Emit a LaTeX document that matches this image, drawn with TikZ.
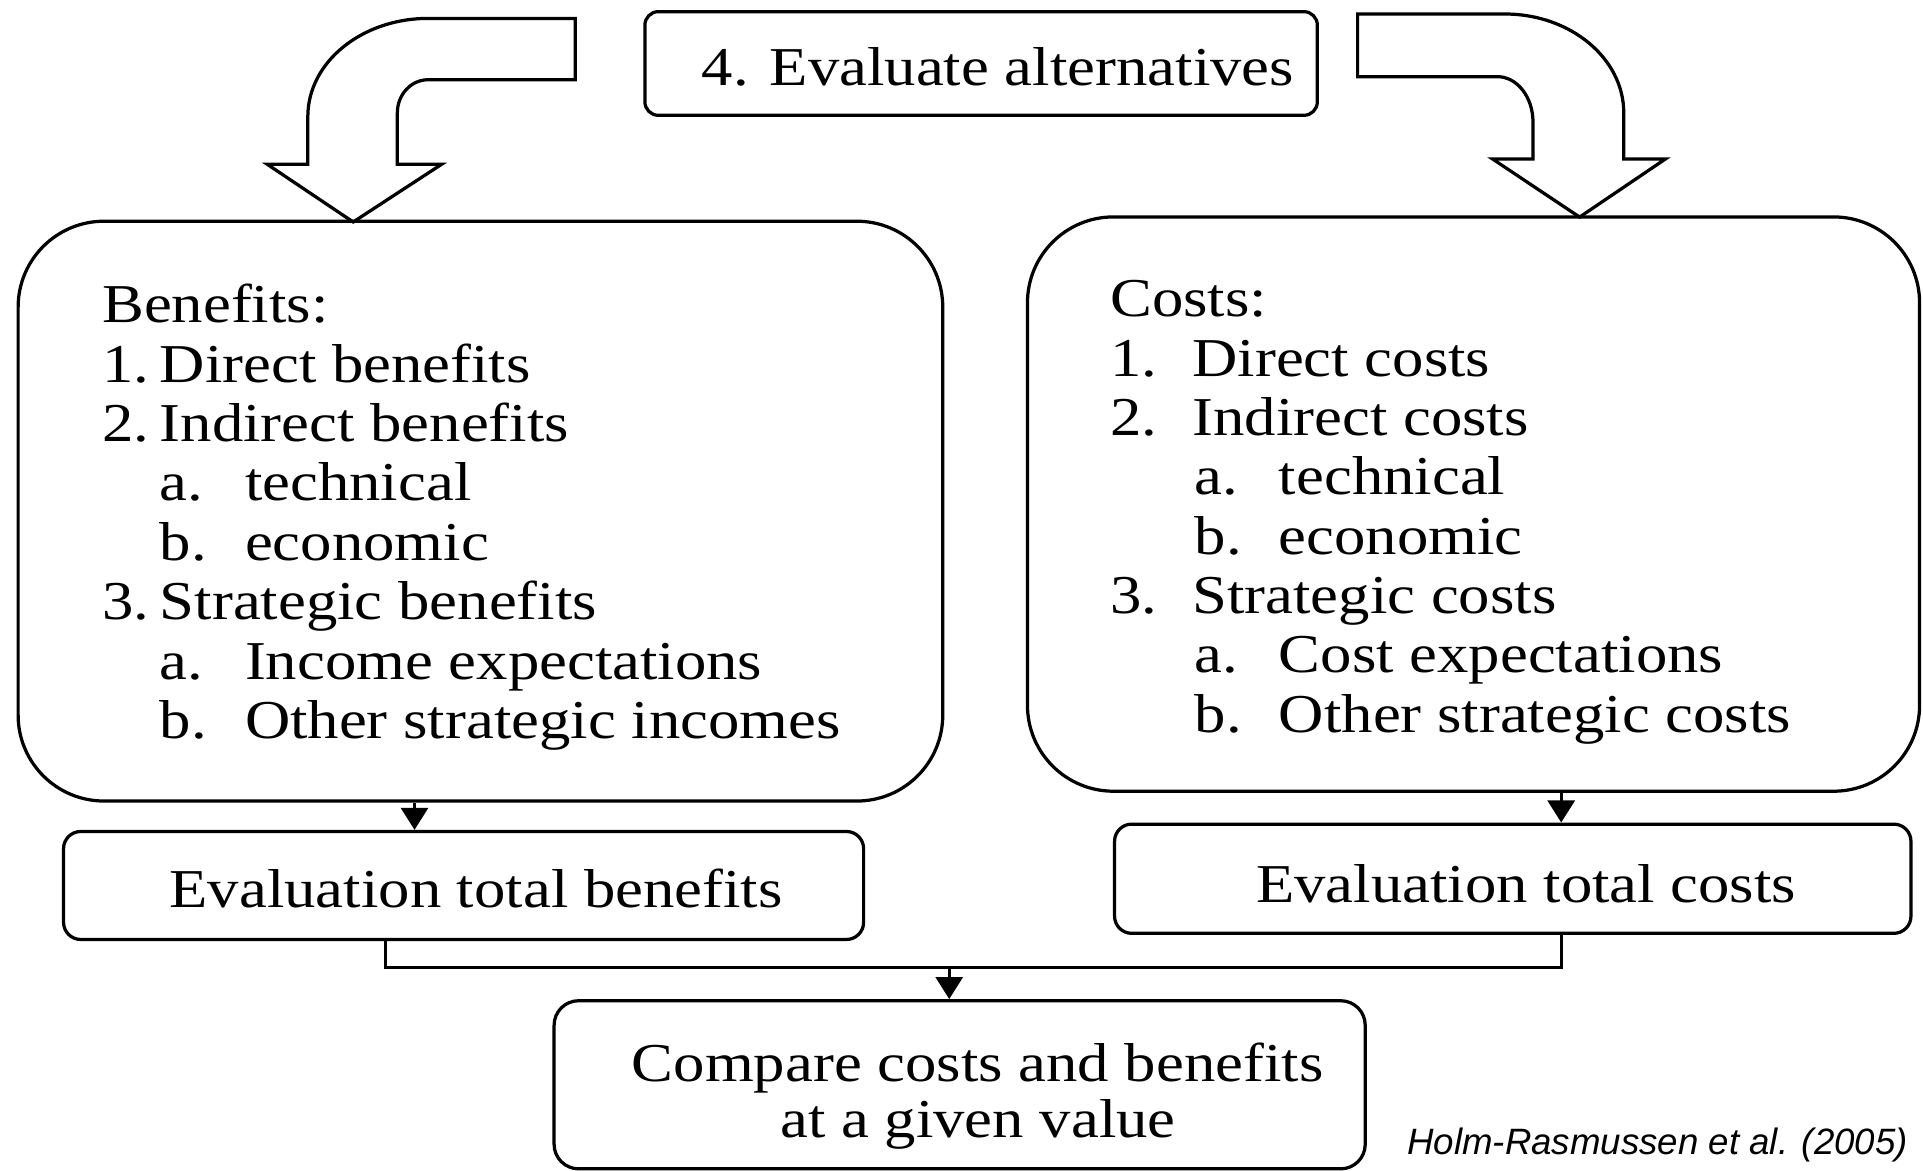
\documentclass[tikz,border=0pt]{standalone}
\usepackage{fontspec}
\setmainfont{Liberation Serif}[FakeStretch=1.145]
\newfontfamily\citefont{Liberation Sans}
\usetikzlibrary{arrows.meta}
\newcommand{\lbl}[2]{\makebox[#1][l]{#2}}

\begin{document}
\begin{tikzpicture}[x=0.01cm, y=-0.01cm, line width=0.75pt,
            every node/.style={font=\fontsize{12.7}{13.8}\selectfont},
            box/.style={draw, rounded corners=#1, inner sep=0pt},
            item/.style={anchor=base west, inner sep=0pt},
            tip/.style={-{Triangle[length=1.8mm, width=2.2mm]}}]
            \useasboundingbox (0,0) rectangle (1568,954.8);
            % boxes
            \node[box=1.1mm, minimum width=5.48cm, minimum height=0.845cm] (alt) at (800,51.75) {};
            \node[box=7mm, minimum width=7.535cm, minimum height=4.725cm] (ben) at (391.75,416.75) {};
            \node[box=7mm, minimum width=7.27cm, minimum height=4.68cm] (cost) at (1201.5,411) {};
            \node[box=1.4mm, minimum width=6.52cm, minimum height=0.88cm] (totben) at (378,722) {};
            \node[box=1.4mm, minimum width=6.49cm, minimum height=0.89cm] (totcost) at (1233.5,716.5) {};
            \node[box=2mm, minimum width=6.61cm, minimum height=1.37cm] (cmp) at (782.5,884.5) {};
            % texts
            \node[item] (altT) at (571,70) {4. Evaluate alternatives};
            \node[item] (b1) at (82,263) {Benefits:};
            \node[item] (b2) at (82,311.5) {\lbl{4.7mm}{1.}Direct benefits};
            \node[item] (b3) at (82,360) {\lbl{4.7mm}{2.}Indirect benefits};
            \node[item] (b4) at (129,408) {\lbl{6.95mm}{a.}technical};
            \node[item] (b5) at (129,457) {\lbl{6.95mm}{b.}economic};
            \node[item] (b6) at (82,505) {\lbl{4.7mm}{3.}Strategic benefits};
            \node[item] (b7) at (129,554) {\lbl{6.95mm}{a.}Income expectations};
            \node[item] (b8) at (129,602) {\lbl{6.95mm}{b.}Other strategic incomes};
            \node[item] (c1) at (904,258) {Costs:};
            \node[item] (c2) at (904,306.6) {\lbl{6.7mm}{1.}Direct costs};
            \node[item] (c3) at (904,355) {\lbl{6.7mm}{2.}Indirect costs};
            \node[item] (c4) at (973,403.4) {\lbl{6.85mm}{a.}technical};
            \node[item] (c5) at (973,451.8) {\lbl{6.85mm}{b.}economic};
            \node[item] (c6) at (904,500.2) {\lbl{6.7mm}{3.}Strategic costs};
            \node[item] (c7) at (973,548.6) {\lbl{6.85mm}{a.}Cost expectations};
            \node[item] (c8) at (973,597) {\lbl{6.85mm}{b.}Other strategic costs};
            \node[item] (totbenT) at (137,740) {Evaluation total benefits};
            \node[item] (totcostT) at (1023,736) {Evaluation total costs};
            \node[item] (cmp1) at (514,881.6) {Compare costs and benefits};
            \node[item] (cmp2) at (635,927.7) {at a given value};
            \node[anchor=base east, inner sep=0pt, font=\citefont\itshape\fontsize{8.5}{10}\selectfont] (src) at (1557,941) {Holm-Rasmussen et al. (2005)};
            % bent block arrows
            \draw (469,15) -- (349,15) .. controls (294.9,15) and (251,50.8) .. (251,95) -- (251,134)
                -- (218,134) -- (288,181) -- (360,134) -- (324,134) -- (324,92)
                .. controls (324,77.1) and (335.2,65) .. (349,65) -- (469,65) -- cycle;
            \draw (1107,11.4) -- (1227,11.4) .. controls (1280.5,11.4) and (1324,47.5) .. (1324,92) -- (1324,129.6)
                -- (1358,129.6) -- (1288,177) -- (1217,129.6) -- (1250,129.6) -- (1250,99.5)
                .. controls (1250,79.1) and (1237,62.5) .. (1221,62.5) -- (1107,62.5) -- cycle;
            % connectors
            \coordinate (bdrop) at (338,0);
            \coordinate (cdrop) at (1273,0);
            \coordinate (bout) at (314.5,0);
            \coordinate (mg) at (774,789);
            \draw[tip] (ben.south -| bdrop) -- (totben.north -| bdrop);
            \draw[tip] (cost.south -| cdrop) -- (totcost.north -| cdrop);
            \draw (totben.south -| bout) |- (mg) -| (totcost.south -| cdrop);
            \draw[tip] (mg) -- (cmp.north -| mg);
        \end{tikzpicture}
\end{document}
